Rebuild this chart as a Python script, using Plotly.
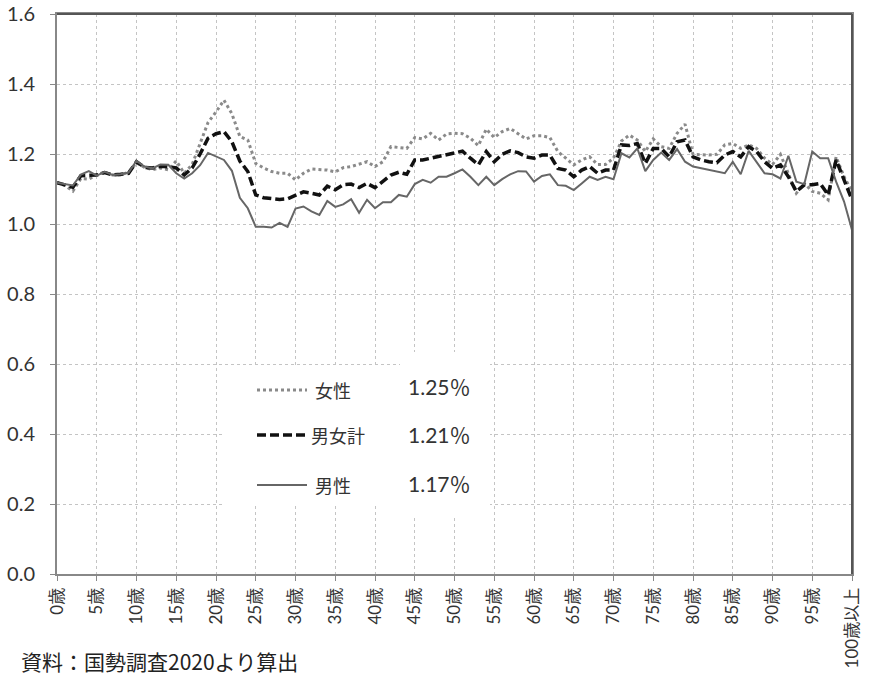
import plotly.graph_objects as go

# Categories (age groups)
ages = [f"{i}歳" for i in range(100)] + ["100歳以上"]
tick_labels = [ages[i] for i in range(0, 101, 5)]

female = [1.118, 1.110, 1.094, 1.130, 1.128, 1.142, 1.147, 1.140, 1.140, 1.148,
          1.175, 1.162, 1.155, 1.160, 1.155, 1.180, 1.145, 1.170, 1.230, 1.290,
          1.320, 1.354, 1.315, 1.250, 1.240, 1.173, 1.160, 1.150, 1.145, 1.145,
          1.126, 1.145, 1.157, 1.155, 1.154, 1.149, 1.161, 1.164, 1.170, 1.178,
          1.164, 1.178, 1.221, 1.218, 1.216, 1.247, 1.243, 1.259, 1.240, 1.257,
          1.259, 1.258, 1.245, 1.224, 1.271, 1.247, 1.264, 1.273, 1.257, 1.243,
          1.252, 1.252, 1.247, 1.207, 1.188, 1.169, 1.183, 1.192, 1.170, 1.170,
          1.188, 1.237, 1.254, 1.240, 1.207, 1.243, 1.221, 1.216, 1.259, 1.285,
          1.199, 1.197, 1.197, 1.199, 1.226, 1.230, 1.216, 1.226, 1.216, 1.188,
          1.170, 1.199, 1.145, 1.088, 1.116, 1.093, 1.088, 1.069, 1.192, 1.135,
          1.093]

total = [1.118, 1.112, 1.105, 1.138, 1.140, 1.140, 1.147, 1.140, 1.142, 1.145,
         1.178, 1.162, 1.160, 1.165, 1.163, 1.160, 1.140, 1.160, 1.200, 1.245,
         1.258, 1.264, 1.235, 1.180, 1.150, 1.083, 1.075, 1.073, 1.070, 1.072,
         1.083, 1.092, 1.088, 1.083, 1.108, 1.098, 1.112, 1.114, 1.104, 1.116,
         1.104, 1.121, 1.140, 1.148, 1.142, 1.183, 1.183, 1.188, 1.193, 1.197,
         1.202, 1.208, 1.188, 1.169, 1.207, 1.178, 1.199, 1.209, 1.204, 1.192,
         1.188, 1.197, 1.197, 1.159, 1.154, 1.135, 1.154, 1.164, 1.145, 1.154,
         1.154, 1.226, 1.224, 1.230, 1.173, 1.216, 1.216, 1.192, 1.235, 1.240,
         1.192, 1.183, 1.178, 1.175, 1.197, 1.207, 1.192, 1.221, 1.207, 1.178,
         1.159, 1.169, 1.135, 1.093, 1.112, 1.112, 1.116, 1.083, 1.183, 1.126,
         1.069]

male = [1.118, 1.113, 1.110, 1.141, 1.151, 1.138, 1.149, 1.140, 1.142, 1.147,
        1.180, 1.164, 1.159, 1.170, 1.169, 1.145, 1.130, 1.145, 1.168, 1.203,
        1.194, 1.183, 1.152, 1.075, 1.045, 0.992, 0.992, 0.990, 1.003, 0.992,
        1.044, 1.050, 1.036, 1.026, 1.066, 1.049, 1.056, 1.071, 1.032, 1.069,
        1.045, 1.062, 1.062, 1.083, 1.078, 1.114, 1.126, 1.118, 1.135, 1.135,
        1.145, 1.156, 1.135, 1.111, 1.135, 1.111, 1.128, 1.142, 1.151, 1.150,
        1.121, 1.137, 1.142, 1.111, 1.109, 1.097, 1.116, 1.135, 1.126, 1.135,
        1.128, 1.202, 1.190, 1.216, 1.151, 1.183, 1.204, 1.183, 1.214, 1.178,
        1.164, 1.159, 1.154, 1.148, 1.145, 1.178, 1.142, 1.209, 1.178, 1.145,
        1.142, 1.130, 1.195, 1.121, 1.114, 1.207, 1.188, 1.188, 1.121, 1.064,
        0.983]

series_names = ["女性", "男女計", "男性"]
series_rates = ["1.25％", "1.21％", "1.17％"]
y_ticks = [0.0, 0.2, 0.4, 0.6, 0.8, 1.0, 1.2, 1.4, 1.6]

W, H = 869, 680
# target plot area in page pixels: left 57, right 852, top 14, bottom 574
L, T = 57, 14
R = W - 852
B = H - 574
PW, PH = W - L - R, H - T - B


def px(x):
    return (x - L) / PW


def py(y):
    return (H - B - y) / PH


styles = [
    dict(color="#8a8a8a", width=3, dash="dot"),
    dict(color="#111111", width=3.5, dash="9px,4px"),
    dict(color="#666666", width=2, dash="solid"),
]

fig = go.Figure()
for name, vals, st in zip(series_names, [female, total, male], styles):
    fig.add_trace(go.Scatter(x=ages, y=vals, mode="lines", name=name,
                             line=st, showlegend=False))

shapes = [
    dict(type="rect", xref="paper", yref="paper", x0=px(225), x1=px(400),
         y0=py(506), y1=py(368), fillcolor="white", line=dict(width=0), layer="above"),
    dict(type="rect", xref="paper", yref="paper", x0=px(400), x1=px(490),
         y0=py(516), y1=py(352), fillcolor="white", line=dict(width=0), layer="above"),
    # darker top / right frame
    dict(type="line", xref="paper", yref="paper", x0=0, x1=1, y0=1, y1=1,
         line=dict(color="#555", width=2), layer="above"),
    dict(type="line", xref="paper", yref="paper", x0=1, x1=1, y0=0, y1=1,
         line=dict(color="#555", width=2), layer="above"),
]
annotations = []
rows = [390, 435, 485]
text_x = [313, 309, 313]
rate_y = [386, 434, 483]
for i, st in enumerate(styles):
    shapes.append(dict(type="line", xref="paper", yref="paper",
                       x0=px(257), x1=px(307), y0=py(rows[i]), y1=py(rows[i]),
                       line=st, layer="above"))
    annotations.append(dict(xref="paper", yref="paper", x=px(text_x[i]), y=py(rows[i]),
                            text=series_names[i], showarrow=False, xanchor="left",
                            yanchor="middle",
                            font=dict(size=18, color="#333", family="Noto Sans CJK JP")))
    annotations.append(dict(xref="paper", yref="paper", x=px(406), y=py(rate_y[i]),
                            text=series_rates[i], showarrow=False, xanchor="left",
                            yanchor="middle",
                            font=dict(size=21, color="#333", family="Lato, Noto Sans CJK JP")))

annotations.append(dict(xref="paper", yref="paper", x=px(19), y=py(661),
                        text="資料：国勢調査2020より算出", showarrow=False,
                        xanchor="left", yanchor="middle",
                        font=dict(size=21, color="#222", family="Noto Sans CJK JP")))

fig.update_layout(
    width=W, height=H, autosize=False,
    margin=dict(l=L, r=R, t=T, b=B),
    paper_bgcolor="white", plot_bgcolor="white",
    shapes=shapes, annotations=annotations,
    showlegend=False, hovermode=False,
    font=dict(family="Lato, Noto Sans CJK JP", color="#333"),
)
fig.update_xaxes(
    type="category", categoryorder="array", categoryarray=ages,
    range=[0, 100], tickmode="array", tickvals=tick_labels, ticktext=tick_labels,
    tickangle=-90, tickfont=dict(size=17, color="#333", family="Lato, Noto Sans CJK JP"),
    showgrid=True, gridcolor="#c4c4c4", griddash="dot", gridwidth=1,
    showline=True, linecolor="#888", linewidth=2, mirror=True,
    ticks="outside", ticklen=5, tickcolor="#888", zeroline=False,
    automargin=False,
)
fig.update_yaxes(
    range=[0, 1.6], tickmode="array", tickvals=y_ticks,
    ticktext=[f"{v:.1f}" for v in y_ticks],
    tickfont=dict(size=20, color="#333", family="Lato, Noto Sans CJK JP"),
    showgrid=True, gridcolor="#c4c4c4", griddash="dot", gridwidth=1,
    showline=True, linecolor="#888", linewidth=2, mirror=True,
    ticks="outside", ticklen=5, tickcolor="#888", zeroline=False,
    ticklabelstandoff=11, automargin=False,
)

fig.write_html("out.html", config={"displayModeBar": False},
               post_script="document.body.style.margin='0';document.body.style.padding='0';")
